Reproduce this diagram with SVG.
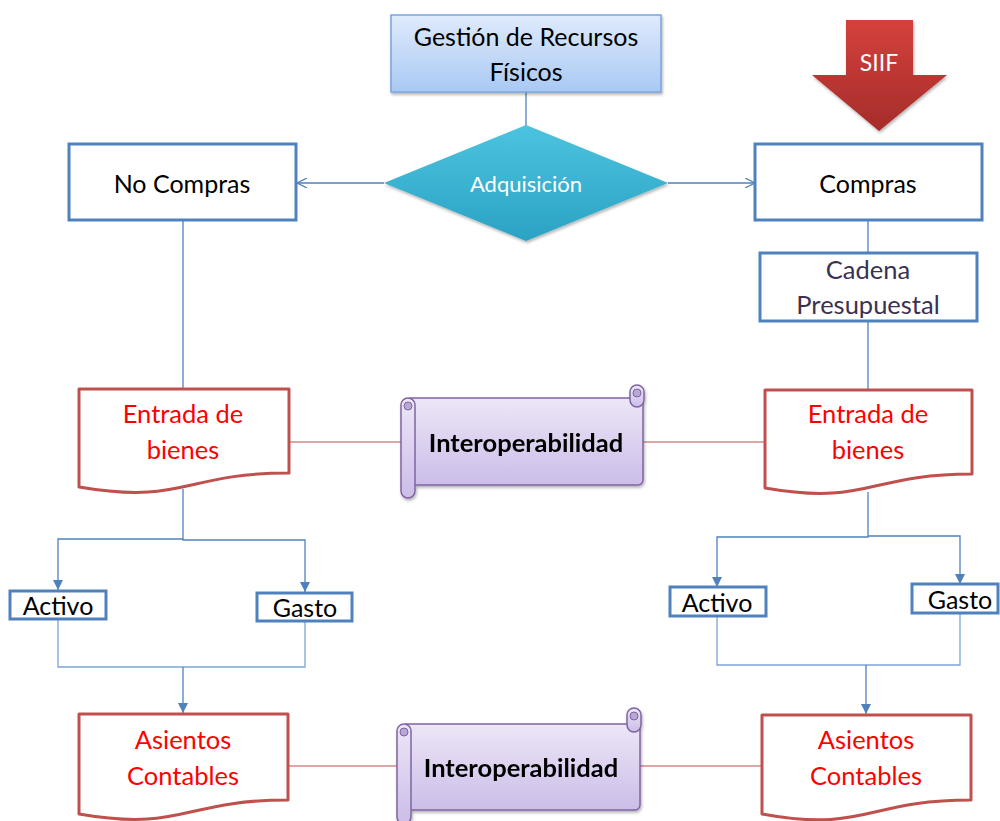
<svg xmlns="http://www.w3.org/2000/svg" width="1000" height="821" viewBox="0 0 1000 821">
<defs>
<linearGradient id="gBlue" x1="0" y1="0" x2="0" y2="1"><stop offset="0" stop-color="#dfeafc"/><stop offset="1" stop-color="#a9c9f3"/></linearGradient>
<linearGradient id="gTeal" x1="0" y1="0" x2="0" y2="1"><stop offset="0" stop-color="#4cc3df"/><stop offset="1" stop-color="#2ba2c4"/></linearGradient>
<linearGradient id="gRed" x1="0" y1="0" x2="0" y2="1"><stop offset="0" stop-color="#d4413c"/><stop offset="1" stop-color="#a52c2a"/></linearGradient>
<linearGradient id="gPurp" x1="0" y1="0" x2="0" y2="1"><stop offset="0" stop-color="#ede6f7"/><stop offset="1" stop-color="#cbbde8"/></linearGradient>
<filter id="sh" x="-10%" y="-10%" width="125%" height="130%"><feDropShadow dx="1" dy="2" stdDeviation="1.5" flood-color="#000" flood-opacity="0.3"/></filter>
<marker id="open" viewBox="0 0 10 10" refX="10" refY="5" markerWidth="10" markerHeight="10" markerUnits="userSpaceOnUse" orient="auto"><path d="M0,0 L10,5 L0,10" fill="none" stroke="#4f81bd" stroke-width="1.2"/></marker>
<marker id="tri" viewBox="0 0 10 10" refX="10" refY="5" markerWidth="10" markerHeight="10" markerUnits="userSpaceOnUse" orient="auto"><path d="M0,0 L10,5 L0,10 Z" fill="#4f81bd"/></marker>
</defs>
<style>
.t{font-family:Lato,"Liberation Sans",sans-serif;text-anchor:middle}
.box{fill:#fff;stroke:#4f81bd;stroke-width:3}
.doc{fill:#fff;stroke:#c0504d;stroke-width:3;stroke-linejoin:round}
.c{fill:none;stroke:#4f81bd;stroke-width:1.3}
.cl{fill:none;stroke:#7ea4d6;stroke-width:1.3}
.r{fill:none;stroke:#c0504d;stroke-width:1.2}
.scroll{fill:url(#gPurp);stroke:#8064a2;stroke-width:1.5}
</style>
<g id="connectors">
<line class="c" x1="526" y1="92" x2="526" y2="126"/>
<line class="c" x1="384" y1="183" x2="297" y2="183" marker-end="url(#open)"/>
<line class="c" x1="668" y1="183" x2="755" y2="183" marker-end="url(#open)"/>
<line class="c" x1="183" y1="221" x2="183" y2="389"/>
<line class="c" x1="868" y1="221" x2="868" y2="253"/>
<line class="c" x1="868" y1="321" x2="868" y2="390"/>
<path class="c" d="M183,489 V539 H58 V590" marker-end="url(#tri)"/>
<path class="c" d="M183,539 V540 H305 V592" marker-end="url(#tri)"/>
<path class="cl" d="M58,620 V667 H305 V622"/>
<line class="c" x1="183" y1="667" x2="183" y2="713" marker-end="url(#tri)"/>
<path class="c" d="M868,492 V537 H717 V587" marker-end="url(#tri)"/>
<path class="c" d="M868,536 H960 V584" marker-end="url(#tri)"/>
<path class="cl" d="M717,617 V665 H960 V614"/>
<line class="c" x1="866" y1="665" x2="866" y2="714" marker-end="url(#tri)"/>
<line class="r" x1="289" y1="442" x2="401" y2="442"/>
<line class="r" x1="643" y1="442" x2="765" y2="442"/>
<line class="r" x1="288" y1="766" x2="397" y2="766"/>
<line class="r" x1="640" y1="766" x2="762" y2="766"/>
</g>
<g id="gestion">
<rect x="391" y="15" width="270" height="77" fill="url(#gBlue)" stroke="#7aa4dc" stroke-width="1.5" filter="url(#sh)"/>
<text class="t" x="526" y="46" font-size="25" fill="#000">Gestión de Recursos</text>
<text class="t" x="526" y="81" font-size="25" fill="#000">Físicos</text>
</g>
<g id="siif">
<path d="M846,20 H913 V75 H947 L879,131 L812,75 H846 Z" fill="url(#gRed)" filter="url(#sh)"/>
<text class="t" x="879" y="71" font-size="23" fill="#fff">SIIF</text>
</g>
<g id="adquisicion">
<path d="M526,125 L668,183 L526,241 L384,183 Z" fill="url(#gTeal)" filter="url(#sh)"/>
<text class="t" x="526" y="192" font-size="22" fill="#fff">Adquisición</text>
</g>
<g id="nocompras">
<rect class="box" x="69" y="144" width="227" height="76"/>
<text class="t" x="182" y="193" font-size="25" fill="#000">No Compras</text>
</g>
<g id="compras">
<rect class="box" x="755" y="144" width="227" height="76"/>
<text class="t" x="868" y="193" font-size="25" fill="#000">Compras</text>
</g>
<g id="cadena">
<rect class="box" x="760" y="253" width="217" height="68"/>
<text class="t" x="868" y="279" font-size="25.5" fill="#3b3150">Cadena</text>
<text class="t" x="868" y="314" font-size="25.5" fill="#3b3150">Presupuestal</text>
</g>
<g id="entrada-izq">
<path class="doc" d="M79,389 H289 V473 C184,473 184,505 79,487 Z"/>
<text class="t" x="183" y="423" font-size="25.5" fill="#ff0000">Entrada de</text>
<text class="t" x="183" y="459" font-size="25.5" fill="#ff0000">bienes</text>
</g>
<g id="entrada-der">
<path class="doc" d="M765,390 H972 V474 C868,474 868,506 765,488 Z"/>
<text class="t" x="868" y="423" font-size="25.5" fill="#ff0000">Entrada de</text>
<text class="t" x="868" y="459" font-size="25.5" fill="#ff0000">bienes</text>
</g>
<g id="interop1" filter="url(#sh)">
<rect class="scroll" x="406" y="398" width="237" height="87" rx="5"/>
<rect class="scroll" x="630" y="385" width="14" height="22" rx="7"/>
<circle cx="637" cy="393" r="4" fill="#b8a8d6" stroke="#8064a2" stroke-width="1"/>
<rect class="scroll" x="401" y="398" width="14" height="100" rx="7"/>
<circle cx="408" cy="406" r="4" fill="#b8a8d6" stroke="#8064a2" stroke-width="1"/>
<text class="t" x="526" y="452" font-size="25.5" font-weight="bold" fill="#000">Interoperabilidad</text>
</g>
<g id="activo-izq">
<rect class="box" x="10" y="591" width="96" height="28"/>
<text class="t" x="58" y="615" font-size="25" fill="#000">Activo</text>
</g>
<g id="gasto-izq">
<rect class="box" x="257" y="593" width="95" height="28"/>
<text class="t" x="305" y="617" font-size="25" fill="#000">Gasto</text>
</g>
<g id="activo-der">
<rect class="box" x="670" y="587" width="96" height="29"/>
<text class="t" x="717" y="612" font-size="25" fill="#000">Activo</text>
</g>
<g id="gasto-der">
<rect class="box" x="912" y="584" width="86" height="29"/>
<text class="t" x="960" y="609" font-size="25" fill="#000">Gasto</text>
</g>
<g id="asientos-izq">
<path class="doc" d="M79,714 H288 V800 C183,800 183,832 79,814 Z"/>
<text class="t" x="183" y="749" font-size="25.5" fill="#ff0000">Asientos</text>
<text class="t" x="183" y="785" font-size="25.5" fill="#ff0000">Contables</text>
</g>
<g id="asientos-der">
<path class="doc" d="M762,715 H971 V800 C866,800 866,833 762,814 Z"/>
<text class="t" x="866" y="749" font-size="25.5" fill="#ff0000">Asientos</text>
<text class="t" x="866" y="785" font-size="25.5" fill="#ff0000">Contables</text>
</g>
<g id="interop2" filter="url(#sh)">
<rect class="scroll" x="402" y="724" width="238" height="86" rx="5"/>
<rect class="scroll" x="627" y="708" width="14" height="24" rx="7"/>
<circle cx="634" cy="716" r="4" fill="#b8a8d6" stroke="#8064a2" stroke-width="1"/>
<rect class="scroll" x="397" y="724" width="14" height="100" rx="7"/>
<circle cx="404" cy="732" r="4" fill="#b8a8d6" stroke="#8064a2" stroke-width="1"/>
<text class="t" x="521" y="777" font-size="25.5" font-weight="bold" fill="#000">Interoperabilidad</text>
</g>
</svg>
